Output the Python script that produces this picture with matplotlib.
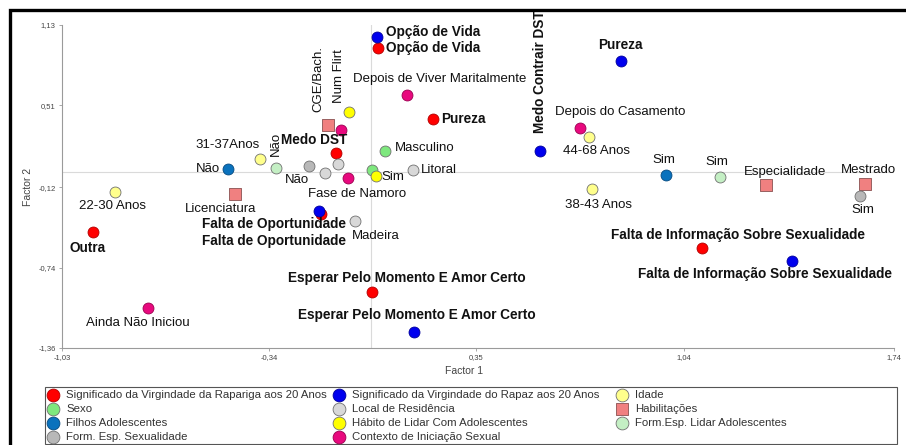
import matplotlib.pyplot as plt
from matplotlib.patches import Rectangle

plt.rcParams["font.family"] = ["Liberation Sans", "DejaVu Sans"]

# ---------------------------------------------------------------------------
# Data (Factor 1, Factor 2 coordinates of each category)
# ---------------------------------------------------------------------------
rapariga_labels = ["Opção de Vida", "Pureza", "Medo DST", "Falta de Oportunidade",
                   "Outra", "Esperar Pelo Momento E Amor Certo",
                   "Falta de Informação Sobre Sexualidade"]
rapariga_x = [0.022, 0.205, -0.118, -0.168, -0.927, 0.002, 1.100]
rapariga_y = [0.953, 0.405, 0.143, -0.327, -0.466, -0.929, -0.589]

rapaz_labels = ["Opção de Vida", "Pureza", "Medo Contrair DST", "Falta de Oportunidade",
                "Esperar Pelo Momento E Amor Certo",
                "Falta de Informação Sobre Sexualidade"]
rapaz_x = [0.019, 0.831, 0.561, -0.174, 0.142, 1.400]
rapaz_y = [1.037, 0.852, 0.159, -0.304, -1.237, -0.690]

idade_labels = ["31-37Anos", "22-30 Anos", "44-68 Anos", "38-43 Anos"]
idade_x = [-0.371, -0.854, 0.724, 0.734]
idade_y = [0.097, -0.158, 0.266, -0.134]

sexo_labels = ["Masculino", ""]
sexo_x = [0.045, 0.002]
sexo_y = [0.159, 0.012]

local_labels = ["Litoral", "Madeira", "", ""]
local_x = [0.138, -0.055, -0.111, -0.155]
local_y = [0.012, -0.381, 0.058, -0.011]

habil_labels = ["CGE/Bach.", "Licenciatura", "Especialidade", "Mestrado"]
habil_x = [-0.145, -0.454, 1.314, 1.643]
habil_y = [0.359, -0.173, -0.104, -0.096]

filhos_labels = ["Não", "Sim"]
filhos_x = [-0.477, 0.981]
filhos_y = [0.020, -0.027]

habito_labels = ["", "Sim"]
habito_x = [-0.075, 0.015]
habito_y = [0.459, -0.034]

lidar_labels = ["Não", "Sim"]
lidar_x = [-0.318, 1.160]
lidar_y = [0.027, -0.042]

formsex_labels = ["Não", "Sim"]
formsex_x = [-0.208, 1.626]
formsex_y = [0.043, -0.188]

contexto_labels = ["Depois de Viver Maritalmente", "Num Flirt", "Fase de Namoro",
                   "Depois do Casamento", "Ainda Não Iniciou"]
contexto_x = [0.118, -0.101, -0.078, 0.694, -0.744]
contexto_y = [0.590, 0.320, -0.050, 0.336, -1.052]

x_ticks = [-1.03, -0.34, 0.35, 1.04, 1.74]
y_ticks = [1.13, 0.51, -0.12, -0.74, -1.36]

# ---------------------------------------------------------------------------
# Label layout: (dx px, dy px, ha, rotation)
# ---------------------------------------------------------------------------
rapariga_pos = [(8, 0, "left", 0), (8, 0, "left", 0), (-22, 13, "center", 0),
                (-47, -27, "center", 0), (-5, -16, "center", 0),
                (35, 14, "center", 0), (36, 13, "center", 0)]
rapaz_pos = [(9, 5, "left", 0), (-1, 16, "center", 0), (0, 18, "center", 90),
             (-45, -13, "center", 0), (3, 17, "center", 0), (-27, -13, "center", 0)]
idade_pos = [(-32, 14, "center", 0), (-2, -14, "center", 0),
             (8, -14, "center", 0), (7, -16, "center", 0)]
sexo_pos = [(10, 3, "left", 0), None]
local_pos = [(8, 0, "left", 0), (21, -15, "center", 0), None, None]
habil_pos = [(-9, 13, "center", 90), (-14, -15, "center", 0),
             (19, 13, "center", 0), (4, 14, "center", 0)]
filhos_pos = [(-8, 0, "right", 0), (-2, 15, "center", 0)]
habito_pos = [None, (6, -1, "left", 0)]
lidar_pos = [(0, 12, "center", 90), (-3, 15, "center", 0)]
formsex_pos = [(-12, -14, "center", 0), (3, -14, "center", 0)]
contexto_pos = [(33, 16, "center", 0), (-2, 27, "center", 90), (9, -16, "center", 0),
                (40, 16, "center", 0), (-10, -15, "center", 0)]

# name, x, y, labels, layout, face, edge, marker, bold labels
groups = [
    ("Significado da Virgindade da Rapariga aos 20 Anos", rapariga_x, rapariga_y,
     rapariga_labels, rapariga_pos, "#ff0000", "#b00000", "o", True),
    ("Significado da Virgindade do Rapaz aos 20 Anos", rapaz_x, rapaz_y,
     rapaz_labels, rapaz_pos, "#0000ee", "#00009a", "o", True),
    ("Idade", idade_x, idade_y, idade_labels, idade_pos, "#ffff8c", "#707070", "o", False),
    ("Sexo", sexo_x, sexo_y, sexo_labels, sexo_pos, "#7ee87e", "#707070", "o", False),
    ("Local de Residência", local_x, local_y, local_labels, local_pos,
     "#d8d8d8", "#707070", "o", False),
    ("Habilitações", habil_x, habil_y, habil_labels, habil_pos,
     "#f08080", "#8a5050", "s", False),
    ("Filhos Adolescentes", filhos_x, filhos_y, filhos_labels, filhos_pos,
     "#0a72bd", "#064a80", "o", False),
    ("Hábito de Lidar Com Adolescentes", habito_x, habito_y, habito_labels, habito_pos,
     "#ffff00", "#707070", "o", False),
    ("Form.Esp. Lidar Adolescentes", lidar_x, lidar_y, lidar_labels, lidar_pos,
     "#c4efc4", "#707070", "o", False),
    ("Form. Esp. Sexualidade", formsex_x, formsex_y, formsex_labels, formsex_pos,
     "#b8b8b8", "#707070", "o", False),
    ("Contexto de Iniciação Sexual", contexto_x, contexto_y, contexto_labels,
     contexto_pos, "#e8097e", "#9a0050", "o", False),
]

W, H = 906, 445
fig = plt.figure(figsize=(W / 100, H / 100), dpi=100)

ax = fig.add_axes([62 / W, 97 / H, 832 / W, 323 / H])
ax.set_xlim(-1.03, 1.74)
ax.set_ylim(-1.36, 1.13)

# reference lines
ax.axhline(0, color="#dadada", lw=0.8, zorder=0)
ax.axvline(0, color="#dadada", lw=0.8, zorder=0)

for name, xs, ys, labels, pos, face, edge, marker, bold in groups:
    ax.scatter(xs, ys, s=62 if marker == "o" else 70, c=face, edgecolors=edge,
               linewidths=0.6, marker=marker, zorder=3)
    for x, y, lab, p in zip(xs, ys, labels, pos):
        if not lab or p is None:
            continue
        dx, dy, ha, rot = p
        va = "bottom" if rot == 90 else "center"
        ax.annotate(lab, (x, y), xytext=(dx, dy), textcoords="offset pixels",
                    ha=ha, va=va, rotation=rot,
                    fontsize=9.8 if bold else 9.5,
                    fontweight="bold" if bold else "normal",
                    color="#111111", zorder=4, annotation_clip=False)

# axes styling
for side in ("top", "right"):
    ax.spines[side].set_visible(False)
for side in ("left", "bottom"):
    ax.spines[side].set_color("#9a9a9a")
    ax.spines[side].set_linewidth(0.8)
ax.set_xticks(x_ticks)
ax.set_yticks(y_ticks)
ax.set_xticklabels([f"{v:.2f}".replace(".", ",") for v in x_ticks])
ax.set_yticklabels([f"{v:.2f}".replace(".", ",") for v in y_ticks])
ax.tick_params(length=2.5, width=0.6, color="#9a9a9a", labelsize=5.5,
               labelcolor="#444444", pad=2)
ax.set_xlabel("Factor 1", fontsize=7.5, color="#444444", labelpad=4)
ax.xaxis.set_label_coords(0.483, -0.055)
ax.set_ylabel("Factor 2", fontsize=7.5, color="#444444", labelpad=4)

# ---------------------------------------------------------------------------
# Overlay in pixel coordinates: outer frame and legend
# ---------------------------------------------------------------------------
ov = fig.add_axes([0, 0, 1, 1])
ov.set_xlim(0, W)
ov.set_ylim(H, 0)
ov.axis("off")

ov.plot([10, 10, W + 5], [H + 5, 10, 10], color="black", lw=2.4,
        solid_joinstyle="miter")

ov.add_patch(Rectangle((45, 387), 852, 57, facecolor="white",
                       edgecolor="#555555", lw=0.8))

order = [0, 3, 6, 9, 1, 4, 7, 10, 2, 5, 8]
col_x = [53, 339, 622]
row_y = [395, 409, 423, 437]
for k, gi in enumerate(order):
    name, _, _, _, _, face, edge, marker, _ = groups[gi]
    col, row = k // 4, k % 4
    mx, my = col_x[col], row_y[row]
    ov.scatter([mx], [my], s=85 if marker == "o" else 80, c=face, edgecolors=edge,
               linewidths=0.6, marker=marker, zorder=3)
    ov.text(mx + 13, my, name, fontsize=8.2, color="#333333", ha="left", va="center")

fig.savefig("out.png", dpi=100, facecolor="white")
